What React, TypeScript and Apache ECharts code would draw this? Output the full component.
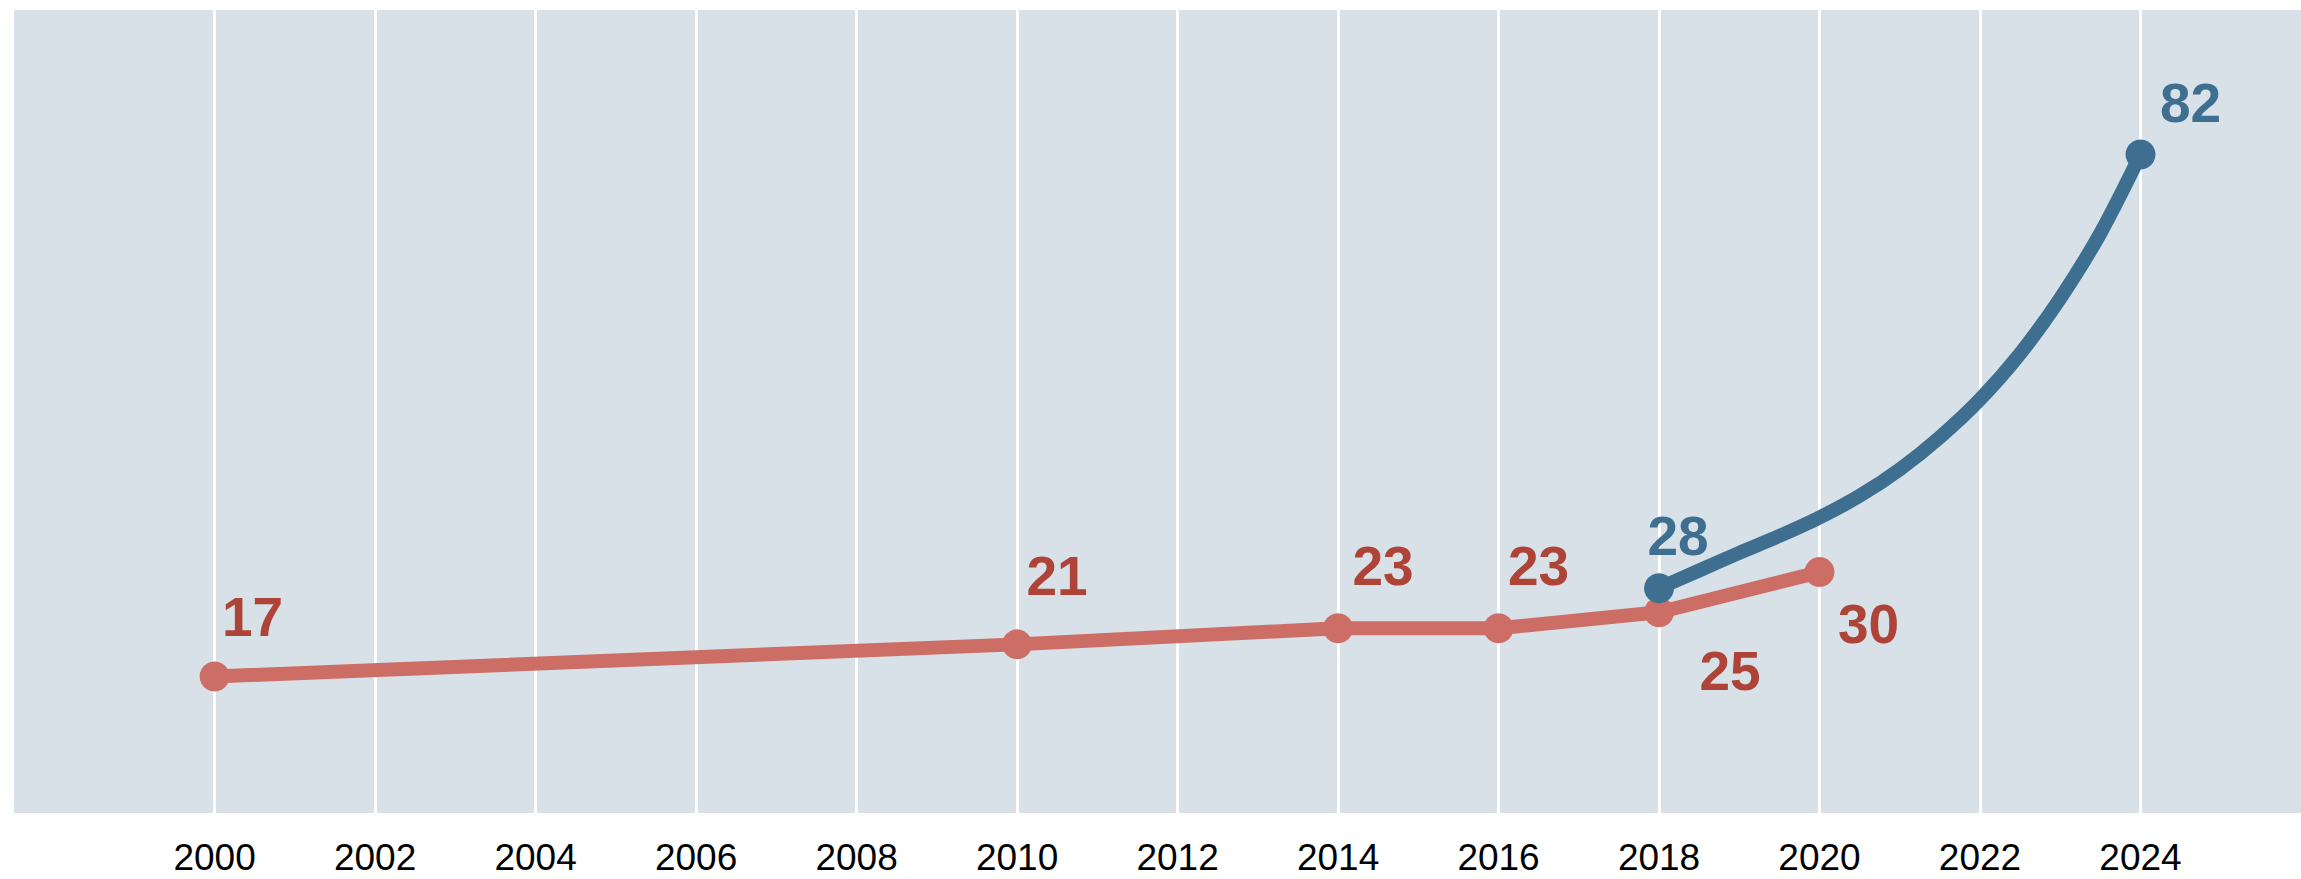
import React, { useEffect, useRef } from "react";
import * as echarts from "echarts";

// Tick labels on the x axis
const tickYears = [2000, 2002, 2004, 2006, 2008, 2010, 2012, 2014, 2016, 2018, 2020, 2022, 2024];

// Red series (measured points)
const redYears = [2000, 2010, 2014, 2016, 2018, 2020];
const redValues = [17, 21, 23, 23, 25, 30];

// Blue series (curve; labelled at both ends)
const blueYears = [2018, 2018.5, 2019, 2019.5, 2020, 2020.5, 2021, 2021.5, 2022, 2022.5, 2023, 2023.5, 2024];
const blueValues = [28, 30.2, 32.4, 34.5, 36.8, 39.5, 42.8, 46.8, 51.5, 57.2, 64.1, 72.2, 82];
const blueLabelled = [true, false, false, false, false, false, false, false, false, false, false, false, true];

// label offsets (style only)
const redLabelOffsets = [[38, -59], [40, -68], [45, -62], [40, -62], [71, 59], [49, 52]];
const blueLabelOffsets: Record<number, number[]> = { 2018: [19, -52], 2024: [50, -52] };

const FONT = "'Liberation Sans', Arial, Helvetica, sans-serif";
const RED = "#CD6E66";
const RED_TEXT = "#AD4437";
const BLUE = "#3E6F91";

export default function App() {
  const ref = useRef<HTMLDivElement>(null);
  useEffect(() => {
    const chart = echarts.init(ref.current!, null, { renderer: "svg" });
    const labelBase = {
      show: true,
      position: ["50%", "50%"],
      align: "center",
      verticalAlign: "middle",
      fontSize: 55,
      fontWeight: "bold",
      fontFamily: FONT,
      formatter: (p: any) => String(p.value[1]),
    };
    chart.setOption({
      animation: false,
      backgroundColor: "#ffffff",
      grid: {
        left: 14,
        right: 0,
        top: 10,
        bottom: 66,
        show: true,
        backgroundColor: "#D9E1E8",
        borderWidth: 0,
        containLabel: false,
        outerBoundsMode: "none",
      },
      xAxis: {
        type: "value",
        min: 1997.5,
        max: 2026,
        axisLine: { show: false },
        axisTick: { show: false, customValues: tickYears },
        axisLabel: {
          customValues: tickYears,
          formatter: (v: number) => String(v),
          color: "#000",
          fontSize: 37,
          fontFamily: FONT,
          margin: 26,
        },
        splitLine: { show: true, lineStyle: { color: "#ffffff", width: 3 } },
      },
      yAxis: { type: "value", min: 0, max: 100, show: false, splitLine: { show: false } },
      series: [
        {
          type: "line",
          z: 2,
          symbol: "circle",
          symbolSize: 30,
          lineStyle: { color: RED, width: 14 },
          itemStyle: { color: RED },
          label: { ...labelBase, color: RED_TEXT },
          data: redYears.map((y, i) => ({
            value: [y, redValues[i]],
            label: { offset: redLabelOffsets[i] },
          })),
        },
        {
          type: "line",
          z: 3,
          smooth: 0.3,
          showAllSymbol: true,
          symbol: "circle",
          symbolSize: 30,
          lineStyle: { color: BLUE, width: 14 },
          itemStyle: { color: BLUE },
          label: { ...labelBase, color: BLUE },
          data: blueYears.map((y, i) =>
            blueLabelled[i]
              ? { value: [y, blueValues[i]], label: { show: true, offset: blueLabelOffsets[y] } }
              : { value: [y, blueValues[i]], symbol: "none", label: { show: false } }
          ),
        },
      ],
    });
    return () => chart.dispose();
  }, []);
  return (
    <div
      ref={ref}
      style={{ position: "fixed", left: 0, top: 0, width: 2301, height: 879, background: "#fff" }}
    />
  );
}
